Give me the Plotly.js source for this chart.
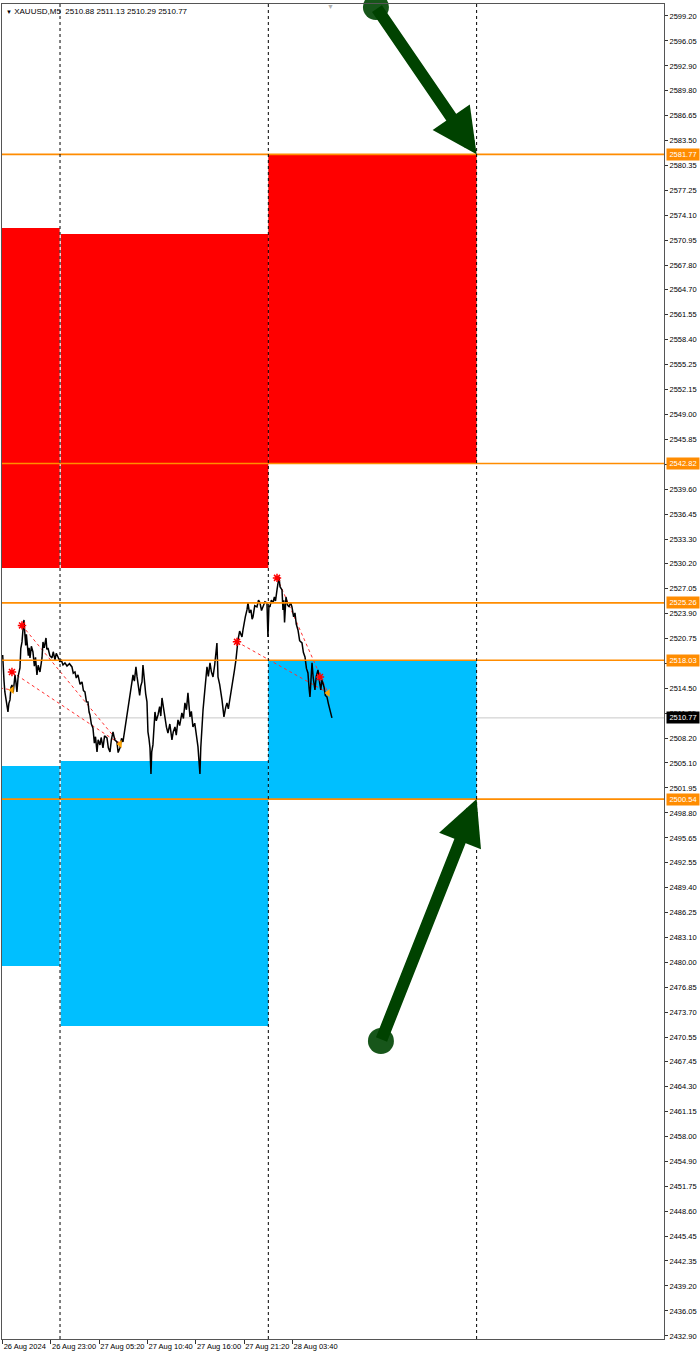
<!DOCTYPE html>
<html>
<head>
<meta charset="utf-8">
<script src="https://cdn.plot.ly/plotly-3.0.1.min.js"></script>
<style>html,body{margin:0;padding:0;background:#fff;}#chart{width:700px;height:1356px;}</style>
</head>
<body>
<div id="chart"></div>
<script>
// ---- data ----
const symbolTitle = "XAUUSD,M5";
const ohlcText = "2510.88 2511.13 2510.29 2510.77";

// x axis: M5 bar index (0 = first visible bar)
const xTickVals = [0, 64, 128, 192, 256, 320, 384];
const xTickText = ["26 Aug 2024", "26 Aug 23:00", "27 Aug 05:20", "27 Aug 10:40", "27 Aug 16:00", "27 Aug 21:20", "28 Aug 03:40"];
const daySeparators = [76, 352, 628];

const yTickVals = [2599.20, 2596.05, 2592.90, 2589.80, 2586.65, 2583.50, 2580.35, 2577.25, 2574.10, 2570.95,
  2567.80, 2564.70, 2561.55, 2558.40, 2555.25, 2552.15, 2549.00, 2545.85, 2542.70, 2539.60, 2536.45, 2533.30,
  2530.20, 2527.05, 2523.90, 2520.75, 2517.65, 2514.50, 2511.35, 2508.20, 2505.10, 2501.95, 2498.80, 2495.65,
  2492.55, 2489.40, 2486.25, 2483.10, 2480.00, 2476.85, 2473.70, 2470.55, 2467.45, 2464.30, 2461.15, 2458.00,
  2454.90, 2451.75, 2448.60, 2445.45, 2442.35, 2439.20, 2436.05, 2432.90];

const barIndex = [0, 0.8, 1.7, 2.8, 4.4, 5.5, 7.0, 8.2, 9.7, 11.0, 12.3, 14.0, 16.3, 17.5, 18.9, 20.5, 22.9, 24.0, 25.6, 27.0,
  28.2, 29.5, 30.5, 31.4, 32.2, 34.0, 35.0, 36.2, 38.0, 40.1, 42.0, 43.5, 45.4, 47.0, 49.4, 50.5, 52.1, 53.4, 55.0, 57.4,
  58.5, 60.0, 62.5, 65.3, 67.0, 69.3, 71.0, 73.3, 75.9, 77.5, 79.9, 82.5, 85.2, 88.5, 91.8, 93.5, 95.8, 97.5, 99.8, 102.5,
  105.1, 107.0, 109.0, 111.0, 113.0, 114.5, 115.7, 117.5, 119.6, 121.5, 123.0, 125.0, 126.5, 128.9, 130.5, 132.9, 135.0, 138.2, 140.0, 142.2,
  144.0, 146.2, 148.5, 151.4, 153.0, 155.4, 157.5, 159.4, 162.0, 164.7, 166.5, 168.7, 170.5, 172.7, 174.5, 176.6, 178.0, 179.3, 181.5, 183.0,
  184.6, 185.9, 187.5, 189.5, 191.2, 192.5, 193.8, 195.2, 196.5, 197.5, 199.1, 200.5, 201.8, 203.5, 205.8, 208.0, 209.5, 211.1, 213.0, 215.0,
  217.0, 219.0, 221.5, 224.3, 226.0, 228.3, 230.0, 232.3, 234.5, 237.5, 239.5, 241.5, 243.5, 245.5, 247.0, 248.2, 250.0, 252.1, 254.5, 257.4,
  258.8, 260.0, 261.4, 262.5, 264.1, 265.5, 266.7, 268.5, 270.7, 272.5, 274.7, 276.5, 278.7, 281.0, 283.9, 285.3, 287.5, 290.6, 292.0, 293.2,
  295.5, 297.2, 299.0, 301.2, 303.5, 305.2, 307.0, 309.1, 310.5, 311.8, 314.0, 317.1, 318.5, 319.7, 321.5, 323.7, 325.0, 327.0, 329.0, 330.5,
  331.7, 334.0, 337.0, 339.0, 340.9, 343.0, 344.9, 347.5, 350.2, 351.5, 352.8, 354.2, 356.0, 358.2, 360.0, 361.5, 363.5, 365.0, 366.1, 367.5,
  370.1, 371.4, 372.5, 373.5, 375.4, 377.5, 379.4, 381.5, 383.3, 385.5, 387.3, 389.0, 391.3, 393.5, 396.6, 398.5, 400.6, 402.5, 404.5, 406.0,
  407.2, 408.5, 409.9, 411.5, 413.8, 415.5, 417.8, 420.0, 421.5, 423.1, 425.8, 427.5, 429.7, 431.5, 433.7, 436.3];
const closePrice = [2518.70, 2516.2, 2515.55, 2514.1, 2513.04, 2512.0, 2511.52, 2512.6, 2513.04, 2514.6, 2514.92, 2514.0, 2516.18, 2515.3, 2514.04, 2516.0, 2517.06, 2519.5, 2520.34, 2522.0,
  2523.11, 2521.2, 2519.9, 2521.3, 2520.34, 2518.6, 2519.6, 2518.32, 2519.8, 2519.08, 2517.3, 2518.4, 2516.18, 2517.4, 2516.56, 2517.5, 2518.32, 2520.34, 2519.6, 2520.84,
  2519.4, 2519.58, 2518.6, 2518.32, 2519.1, 2518.07, 2518.9, 2518.45, 2517.82, 2518.1, 2517.44, 2517.7, 2517.31, 2517.6, 2517.19, 2516.4, 2516.56, 2515.8, 2516.18, 2515.0,
  2515.30, 2514.2, 2514.04, 2512.8, 2512.78, 2511.5, 2511.14, 2510.0, 2509.51, 2507.6, 2508.4, 2506.48, 2508.0, 2507.37, 2508.3, 2506.99, 2508.5, 2508.25, 2507.0, 2506.48,
  2508.0, 2509.00, 2508.0, 2507.74, 2506.4, 2506.99, 2508.2, 2507.74, 2509.5, 2510.76, 2512.3, 2513.66, 2515.0, 2516.18, 2515.4, 2517.19, 2516.0, 2514.92, 2513.6, 2514.8,
  2515.30, 2517.44, 2515.6, 2513.8, 2512.78, 2509.00, 2508.2, 2506.99, 2503.71, 2506.5, 2507.37, 2509.6, 2511.52, 2510.4, 2511.14, 2512.2, 2511.0, 2513.28, 2512.0, 2510.76,
  2509.6, 2508.87, 2510.0, 2507.99, 2509.0, 2509.63, 2508.6, 2510.51, 2509.8, 2511.40, 2510.7, 2512.66, 2511.8, 2513.92, 2512.3, 2510.89, 2511.6, 2509.63, 2510.1, 2508.37,
  2507.11, 2505.5, 2503.71, 2507.0, 2510.51, 2511.8, 2513.04, 2515.5, 2517.19, 2516.0, 2517.70, 2516.6, 2515.93, 2517.5, 2520.21, 2515.93, 2515.0, 2513.04, 2512.0, 2510.89,
  2512.1, 2512.66, 2511.9, 2513.41, 2514.3, 2515.55, 2516.7, 2518.07, 2519.5, 2520.59, 2521.7, 2520.97, 2521.9, 2522.74, 2523.5, 2524.37, 2525.26, 2524.0, 2524.37, 2523.2,
  2523.49, 2524.9, 2524.75, 2525.6, 2525.26, 2524.3, 2524.75, 2525.4, 2525.26, 2520.97, 2524.9, 2524.75, 2525.6, 2525.26, 2526.0, 2525.5, 2526.90, 2527.8, 2528.54, 2527.3,
  2526.90, 2524.37, 2525.6, 2522.8, 2526.01, 2525.0, 2524.75, 2525.3, 2524.75, 2523.5, 2523.99, 2522.6, 2521.85, 2520.5, 2520.21, 2519.0, 2518.45, 2517.0, 2516.43, 2514.5,
  2513.41, 2515.5, 2517.70, 2515.8, 2514.29, 2516.0, 2516.81, 2515.2, 2514.3, 2515.55, 2514.67, 2513.6, 2513.41, 2512.6, 2511.77, 2510.77];

// supply (red) and demand (blue) zones
const redZoneStart = [-5, 77, 352];
const redZoneEnd = [75.5, 352, 628];
const redZoneLow = [2529.66, 2529.66, 2542.82];
const redZoneHigh = [2572.49, 2571.74, 2581.77];
const blueZoneStart = [-5, 77, 352];
const blueZoneEnd = [75.5, 352, 628];
const blueZoneLow = [2479.52, 2471.96, 2500.54];
const blueZoneHigh = [2504.72, 2505.35, 2518.03];

// horizontal levels
const levelPrices = [2581.77, 2542.82, 2525.26, 2518.03, 2500.54];
const bidPrice = 2510.77;

// zigzag-style dotted segments
const zigFromX = [-3.6, 25.6, 12.3, 310.5, 363.5];
const zigFromY = [2514.54, 2522.42, 2516.56, 2520.35, 2528.41];
const zigToX = [12.3, 155.4, 155.4, 431.0, 431.0];
const zigToY = [2514.29, 2507.49, 2507.49, 2513.91, 2513.91];
const starX = [12.3, 25.6, 310.5, 363.5, 420.4];
const starY = [2516.56, 2522.42, 2520.35, 2528.41, 2515.93];
const triX = [12.3, 155.4, 431.0];
const triY = [2514.29, 2507.49, 2513.91];

// green arrows (tail -> head)
const arrowTailX = [494.6, 501.2];
const arrowTailY = [2600.33, 2470.07];
const arrowHeadX = [628, 628];
const arrowHeadY = [2581.77, 2500.54];

// ---- build ----
const fontFam = "Liberation Sans, Arial, sans-serif";
const shapes = [];
for (let i = 0; i < redZoneStart.length; i++) {
  shapes.push({type: 'rect', xref: 'x', yref: 'y', layer: 'below', x0: redZoneStart[i], x1: redZoneEnd[i],
    y0: redZoneLow[i], y1: redZoneHigh[i], fillcolor: '#FF0000', line: {width: 0}});
}
for (let i = 0; i < blueZoneStart.length; i++) {
  shapes.push({type: 'rect', xref: 'x', yref: 'y', layer: 'below', x0: blueZoneStart[i], x1: blueZoneEnd[i],
    y0: blueZoneLow[i], y1: blueZoneHigh[i], fillcolor: '#00BFFF', line: {width: 0}});
}
shapes.push({type: 'line', xref: 'paper', yref: 'y', layer: 'below', x0: 0, x1: 1, y0: bidPrice, y1: bidPrice,
  line: {color: '#C8C8C8', width: 1}});
levelPrices.forEach(p => shapes.push({type: 'line', xref: 'paper', yref: 'y', x0: 0, x1: 1, y0: p, y1: p,
  line: {color: '#FF8C00', width: 1.6}}));
daySeparators.forEach(s => shapes.push({type: 'line', xref: 'x', yref: 'paper', x0: s, x1: s, y0: 0, y1: 1,
  line: {color: '#000000', width: 1, dash: 'dot'}}));

const zx = [], zy = [];
for (let i = 0; i < zigFromX.length; i++) { zx.push(zigFromX[i], zigToX[i], null); zy.push(zigFromY[i], zigToY[i], null); }

const traces = [
  {x: zx, y: zy, mode: 'lines', line: {color: '#FF3030', width: 1, dash: 'dot'}, hoverinfo: 'skip'},
  {x: barIndex, y: closePrice, mode: 'lines', line: {color: '#000000', width: 1.5}, hoverinfo: 'skip'},
  {x: starX, y: starY, mode: 'markers', marker: {symbol: 'asterisk-open', size: 7, color: '#FF0000', line: {color: '#FF0000', width: 1.5}}, hoverinfo: 'skip'},
  {x: triX, y: triY, mode: 'markers', marker: {symbol: 'triangle-left', size: 7, color: '#FFA500'}, hoverinfo: 'skip'},
  {x: arrowTailX, y: arrowTailY, mode: 'markers', marker: {symbol: 'circle', size: 26, color: '#17561a'}, hoverinfo: 'skip', cliponaxis: false}
];

const annotations = [];
for (let i = 0; i < arrowTailX.length; i++) {
  annotations.push({x: arrowHeadX[i], y: arrowHeadY[i], ax: arrowTailX[i], ay: arrowTailY[i], xref: 'x', yref: 'y',
    axref: 'x', ayref: 'y', text: '', showarrow: true, arrowhead: 2, arrowsize: 0.75, arrowwidth: 12, arrowcolor: '#004200'});
}
levelPrices.forEach(p => annotations.push({xref: 'paper', yref: 'y', x: 1.003, y: p, xanchor: 'left', yanchor: 'middle',
  text: p.toFixed(2), showarrow: false, bgcolor: '#FF8C00', borderpad: 1, width: 30,
  font: {family: fontFam, size: 7.5, color: '#FFFFFF'}}));
annotations.push({xref: 'paper', yref: 'y', x: 1.003, y: bidPrice, xanchor: 'left', yanchor: 'middle',
  text: bidPrice.toFixed(2), showarrow: false, bgcolor: '#000000', borderpad: 1, width: 30,
  font: {family: fontFam, size: 7.5, color: '#FFFFFF'}});
annotations.push({xref: 'paper', yref: 'paper', x: 0.003, y: 0.999, xanchor: 'left', yanchor: 'top', showarrow: false,
  text: '<span style="font-size:6px">▼</span> ' + symbolTitle + '&nbsp;&nbsp;' + ohlcText, font: {family: fontFam, size: 8, color: '#000'}});
annotations.push({xref: 'paper', yref: 'paper', x: 0.4955, y: 1.002, xanchor: 'center', yanchor: 'top', showarrow: false,
  text: '▼', font: {family: fontFam, size: 7, color: '#B0B0B0'}});

const layout = {
  width: 700, height: 1356,
  margin: {l: 2, r: 36, t: 4, b: 17},
  paper_bgcolor: '#FFFFFF', plot_bgcolor: '#FFFFFF',
  showlegend: false,
  xaxis: {range: [-0.9, 876.3], showgrid: false, zeroline: false, tickmode: 'array', tickvals: xTickVals, ticktext: xTickText,
    ticks: 'outside', ticklen: 4, tickcolor: '#333', ticklabelposition: 'outside right', tickangle: 0, showline: true, mirror: true,
    linecolor: '#555', linewidth: 1, tickfont: {family: fontFam, size: 7.5, color: '#000'}, fixedrange: true},
  yaxis: {range: [2432.52, 2600.71], side: 'right', showgrid: false, zeroline: false, tickmode: 'array', tickvals: yTickVals,
    ticktext: yTickVals.map(v => v.toFixed(2)), ticks: 'outside', ticklen: 3, tickcolor: '#333', showline: true, mirror: true,
    linecolor: '#555', linewidth: 1, tickfont: {family: fontFam, size: 7.5, color: '#000'}, fixedrange: true},
  shapes: shapes,
  annotations: annotations
};
Plotly.newPlot('chart', traces, layout, {displayModeBar: false, staticPlot: true});
</script>
</body>
</html>
